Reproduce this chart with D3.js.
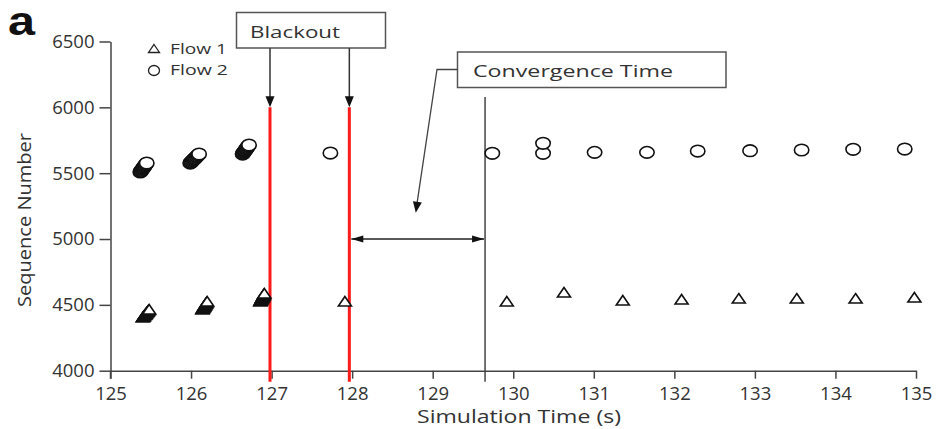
<!DOCTYPE html>
<html>
<head>
<meta charset="utf-8">
<script src="https://cdn.jsdelivr.net/npm/d3@7"></script>
<style>
  body { margin: 0; background: #fff; }
  svg { display: block; background: #fff; }
  .axis text { font-family: "Open Sans", sans-serif; font-size: 18.5px; fill: #333; }
  .axis path, .axis line { stroke: #444; stroke-width: 1.5; }
  .lbl { font-family: "Open Sans", sans-serif; fill: #333; }
</style>
</head>
<body>
<div id="chart"></div>
<script>
// Flow 1 (triangles): simulation time (s) and sequence number
var flow1Time = [
    125.400, 125.407, 125.415, 125.422, 125.429, 125.436, 125.444, 125.451, 125.458, 125.465, 125.473, 125.480,
    126.140, 126.145, 126.151, 126.156, 126.162, 126.167, 126.173, 126.178, 126.184, 126.189, 126.195, 126.200,
    126.860, 126.865, 126.869, 126.874, 126.878, 126.883, 126.887, 126.892, 126.896, 126.901, 126.905, 126.910,
    127.91,
    129.92, 130.63, 131.36, 132.09, 132.80, 133.52, 134.25, 134.98
];
var flow1Seq = [
    4400, 4406, 4411, 4417, 4422, 4428, 4433, 4439, 4444, 4450, 4455, 4461,
    4461, 4467, 4472, 4478, 4483, 4489, 4494, 4500, 4505, 4511, 4516, 4522,
    4522, 4528, 4533, 4539, 4544, 4550, 4555, 4561, 4566, 4572, 4577, 4583,
    4522,
    4522, 4590, 4529, 4537, 4544, 4544, 4544, 4552
];

// Flow 2 (circles)
var flow2Time = [
    125.370, 125.377, 125.385, 125.392, 125.399, 125.406, 125.414, 125.421, 125.428, 125.435, 125.443, 125.450,
    125.990, 126.000, 126.010, 126.020, 126.030, 126.040, 126.050, 126.060, 126.070, 126.080, 126.090, 126.100,
    126.640, 126.647, 126.655, 126.662, 126.669, 126.676, 126.684, 126.691, 126.698, 126.705, 126.713, 126.720,
    127.73,
    129.74, 130.37, 130.37, 131.01, 131.66, 132.29, 132.94, 133.58, 134.22, 134.86
];
var flow2Seq = [
    5509, 5515, 5521, 5528, 5534, 5540, 5546, 5552, 5558, 5565, 5571, 5577,
    5577, 5583, 5589, 5596, 5602, 5608, 5614, 5620, 5626, 5633, 5639, 5645,
    5645, 5651, 5658, 5664, 5670, 5676, 5683, 5689, 5695, 5702, 5708, 5714,
    5653,
    5651, 5651, 5727, 5658, 5658, 5668, 5671, 5676, 5681, 5683
];

var xTicks = [125, 126, 127, 128, 129, 130, 131, 132, 133, 134, 135];
var yTicks = [4000, 4500, 5000, 5500, 6000, 6500];
var blackoutTimes = [126.98, 127.965];
var convergenceTime = 129.65;

var W = 936, H = 429;

var svg = d3.select("#chart").append("svg")
    .attr("width", W)
    .attr("height", H);

var x = d3.scaleLinear().domain([125, 135]).range([110.5, 916]);
var y = d3.scaleLinear().domain([4000, 6500]).range([370.7, 41.5]);

// axes
svg.append("g")
    .attr("class", "axis")
    .attr("transform", "translate(0," + y(4000) + ")")
    .call(d3.axisBottom(x).tickValues(xTicks).tickFormat(d3.format("d"))
        .tickSizeInner(8).tickSizeOuter(0).tickPadding(8));

svg.append("g")
    .attr("class", "axis")
    .attr("transform", "translate(" + x(125) + ",0)")
    .call(d3.axisLeft(y).tickValues(yTicks).tickFormat(d3.format("d"))
        .tickSizeInner(11).tickSizeOuter(0).tickPadding(5));

// y axis runs a little below the x axis
svg.append("line")
    .attr("x1", x(125)).attr("x2", x(125))
    .attr("y1", y(4000)).attr("y2", y(4000) + 8)
    .attr("stroke", "#444").attr("stroke-width", 1.5);

// axis titles
svg.append("text").attr("class", "lbl")
    .attr("x", 417).attr("y", 423)
    .attr("font-size", 18)
    .attr("textLength", 204).attr("lengthAdjust", "spacingAndGlyphs")
    .text("Simulation Time (s)");

svg.append("text").attr("class", "lbl")
    .attr("transform", "translate(31,307) rotate(-90)")
    .attr("font-size", 19)
    .attr("textLength", 174).attr("lengthAdjust", "spacingAndGlyphs")
    .text("Sequence Number");

svg.append("text")
    .attr("x", 8).attr("y", 35)
    .attr("font-family", "Liberation Sans, Arial, sans-serif")
    .attr("font-weight", "bold")
    .attr("font-size", 40)
    .attr("fill", "#111")
    .attr("textLength", 27).attr("lengthAdjust", "spacingAndGlyphs")
    .text("a");

// arrowhead helper: tip at (tx,ty), pointing along (dx,dy)
function head(g, tx, ty, dx, dy, len, w) {
    var n = Math.sqrt(dx * dx + dy * dy);
    var ux = dx / n, uy = dy / n;
    var bx = tx - ux * len, by = ty - uy * len;
    var px = -uy * w / 2, py = ux * w / 2;
    g.append("path")
        .attr("d", "M" + tx + "," + ty + "L" + (bx + px) + "," + (by + py) +
            "L" + (bx - px) + "," + (by - py) + "Z")
        .attr("fill", "#111");
}

// blackout lines
svg.selectAll(".blk")
    .data(blackoutTimes)
    .enter().append("line")
    .attr("class", "blk")
    .attr("x1", d => x(d)).attr("x2", d => x(d))
    .attr("y1", y(6000)).attr("y2", y(4000) + 11)
    .attr("stroke", "#ff1a1a").attr("stroke-width", 3);

// convergence line
svg.append("line")
    .attr("x1", x(convergenceTime)).attr("x2", x(convergenceTime))
    .attr("y1", 97).attr("y2", y(4000) + 11)
    .attr("stroke", "#444").attr("stroke-width", 1.5);

// convergence double arrow
var ann = svg.append("g");
ann.append("line")
    .attr("x1", x(blackoutTimes[1]) + 2).attr("x2", x(convergenceTime) - 1)
    .attr("y1", y(5000)).attr("y2", y(5000))
    .attr("stroke", "#222").attr("stroke-width", 1.3);
head(ann, x(blackoutTimes[1]) + 2, y(5000), -1, 0, 12, 7);
head(ann, x(convergenceTime) - 1, y(5000), 1, 0, 12, 7);

// Blackout box and arrows
ann.append("rect")
    .attr("x", 236.5).attr("y", 12.5).attr("width", 149).attr("height", 35.5)
    .attr("fill", "#fff").attr("stroke", "#555").attr("stroke-width", 1.5);
ann.append("text").attr("class", "lbl")
    .attr("x", 250).attr("y", 38)
    .attr("font-size", 17)
    .attr("textLength", 90).attr("lengthAdjust", "spacingAndGlyphs")
    .text("Blackout");
blackoutTimes.forEach(function (t) {
    ann.append("line")
        .attr("x1", x(t)).attr("x2", x(t))
        .attr("y1", 48).attr("y2", y(6000) - 8)
        .attr("stroke", "#333").attr("stroke-width", 1.5);
    head(ann, x(t), y(6000), 0, 1, 11, 9);
});

// Convergence Time box and leader
ann.append("rect")
    .attr("x", 457.5).attr("y", 52).attr("width", 268.5).attr("height", 35.5)
    .attr("fill", "#fff").attr("stroke", "#555").attr("stroke-width", 1.5);
ann.append("text").attr("class", "lbl")
    .attr("x", 473).attr("y", 77)
    .attr("font-size", 17)
    .attr("textLength", 200).attr("lengthAdjust", "spacingAndGlyphs")
    .text("Convergence Time");
var tipX = x(128.79), tipY = y(5200);
ann.append("path")
    .attr("d", "M457.5,69.5L437,69.5L" + (tipX + 1.2) + "," + (tipY - 9))
    .attr("fill", "none").attr("stroke", "#444").attr("stroke-width", 1.3);
head(ann, tipX, tipY, tipX - 437, tipY - 69.5, 11, 9);

// markers
var flow2 = flow2Time.map((t, i) => ({ t: t, s: flow2Seq[i] }));
var flow1 = flow1Time.map((t, i) => ({ t: t, s: flow1Seq[i] }));

svg.append("g").selectAll("ellipse")
    .data(flow2)
    .enter().append("ellipse")
    .attr("cx", d => x(d.t))
    .attr("cy", d => y(d.s))
    .attr("rx", 7.2).attr("ry", 5.8)
    .attr("fill", "#fff")
    .attr("stroke", "#111")
    .attr("stroke-width", 1.6);

var tri = "M0,-5.5L6.5,4L-6.5,4Z";
svg.append("g").selectAll("path")
    .data(flow1)
    .enter().append("path")
    .attr("transform", d => "translate(" + x(d.t) + "," + y(d.s) + ")")
    .attr("d", tri)
    .attr("fill", "#fff")
    .attr("stroke", "#111")
    .attr("stroke-width", 1.6);

// legend
var leg = svg.append("g");
leg.append("path")
    .attr("transform", "translate(154,49)")
    .attr("d", "M0,-4.5L5.5,3.5L-5.5,3.5Z")
    .attr("fill", "#fff").attr("stroke", "#222").attr("stroke-width", 1.3);
leg.append("ellipse")
    .attr("cx", 154).attr("cy", 70.5).attr("rx", 5.5).attr("ry", 5)
    .attr("fill", "#fff").attr("stroke", "#222").attr("stroke-width", 1.3);
leg.append("text").attr("class", "lbl")
    .attr("x", 170).attr("y", 54).attr("font-size", 15)
    .attr("textLength", 57).attr("lengthAdjust", "spacingAndGlyphs")
    .text("Flow 1");
leg.append("text").attr("class", "lbl")
    .attr("x", 170).attr("y", 75).attr("font-size", 15)
    .attr("textLength", 58).attr("lengthAdjust", "spacingAndGlyphs")
    .text("Flow 2");
</script>
</body>
</html>
